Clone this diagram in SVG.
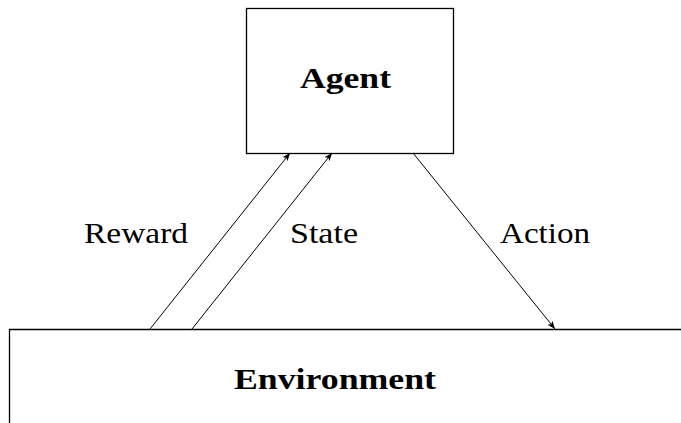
<svg xmlns="http://www.w3.org/2000/svg" width="681" height="423" viewBox="0 0 681 423">
<style>
.box{fill:#fff;stroke:#000;stroke-width:1.3}
.t{font-family:"Liberation Serif","DejaVu Serif",serif;font-size:30px;fill:#000}
.b{font-weight:bold}
.c{stroke:#000;stroke-width:1;fill:none;marker-end:url(#ah)}
</style>
<defs>
<marker id="ah" viewBox="0 0 10 10" refX="10" refY="5" markerWidth="8" markerHeight="8" markerUnits="userSpaceOnUse" orient="auto">
<path d="M0,1 L10,5 L0,9 L2.5,5 Z" fill="#000"/>
</marker>
</defs>
<rect width="681" height="423" fill="#fff"/>
<g id="agent">
<rect class="box" x="246.5" y="8.5" width="207" height="145"/>
<text class="t b" x="345.5" y="88" text-anchor="middle" textLength="91" lengthAdjust="spacingAndGlyphs">Agent</text>
</g>
<g id="environment">
<path d="M9.5,423 L9.5,329.5 L681,329.5" fill="none" stroke="#000" stroke-width="1.3"/>
<text class="t b" x="335" y="389" text-anchor="middle" textLength="202" lengthAdjust="spacingAndGlyphs">Environment</text>
</g>
<g id="connectors">
<line class="c" x1="150" y1="329" x2="290" y2="153"/>
<line class="c" x1="192" y1="329" x2="332" y2="153"/>
<line class="c" x1="413" y1="153" x2="555" y2="329"/>
</g>
<g id="labels">
<text class="t" x="84" y="243" textLength="104" lengthAdjust="spacingAndGlyphs">Reward</text>
<text class="t" x="290" y="243" textLength="68" lengthAdjust="spacingAndGlyphs">State</text>
<text class="t" x="500" y="243" textLength="90" lengthAdjust="spacingAndGlyphs">Action</text>
</g>
</svg>
